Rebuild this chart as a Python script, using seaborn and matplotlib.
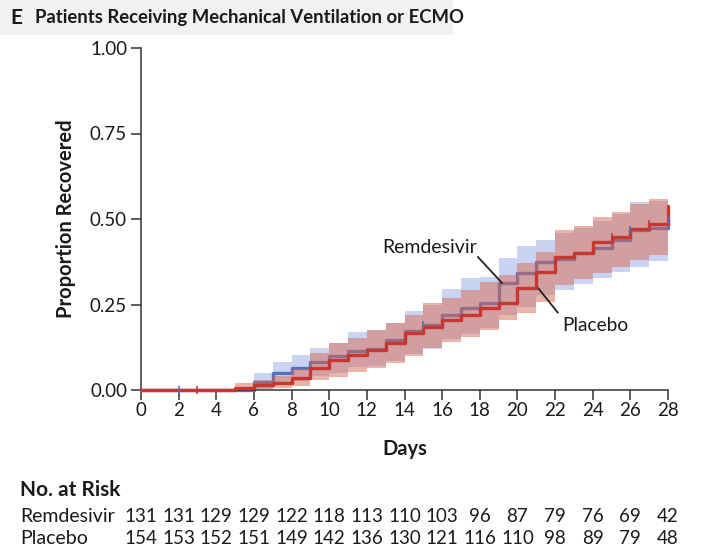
import numpy as np
import pandas as pd
import matplotlib
matplotlib.use("Agg")
import matplotlib.pyplot as plt
from matplotlib.patches import Rectangle
from matplotlib.transforms import blended_transform_factory
import seaborn as sns

# ---- data ----
days = list(range(0, 29))
remdesivir = [0, 0, 0, 0, 0, 0, 0.024, 0.05, 0.064, 0.083, 0.10, 0.114, 0.12, 0.146,
              0.173, 0.19, 0.22, 0.24, 0.255, 0.313, 0.342, 0.375, 0.383, 0.40, 0.415,
              0.438, 0.468, 0.473, 0.497]
remdesivir_upper = [0, 0, 0, 0, 0, 0, 0.05, 0.083, 0.102, 0.122, 0.137, 0.17, 0.175, 0.195,
                    0.232, 0.25, 0.295, 0.327, 0.33, 0.385, 0.42, 0.44, 0.46, 0.475, 0.495,
                    0.515, 0.55, 0.552, 0.552]
remdesivir_lower = [0, 0, 0, 0, 0, 0, 0.003, 0.015, 0.025, 0.04, 0.05, 0.067, 0.07, 0.085,
                    0.105, 0.12, 0.15, 0.165, 0.18, 0.22, 0.244, 0.278, 0.292, 0.31, 0.327,
                    0.346, 0.36, 0.378, 0.378]
placebo = [0, 0, 0, 0, 0, 0.007, 0.015, 0.02, 0.035, 0.064, 0.088, 0.102, 0.117, 0.138,
           0.166, 0.185, 0.205, 0.22, 0.24, 0.254, 0.297, 0.345, 0.39, 0.40, 0.434,
           0.448, 0.47, 0.484, 0.538]
placebo_upper = [0, 0, 0, 0, 0, 0.02, 0.03, 0.04, 0.06, 0.107, 0.137, 0.152, 0.175, 0.195,
                 0.219, 0.254, 0.27, 0.292, 0.317, 0.336, 0.37, 0.404, 0.468, 0.48, 0.505,
                 0.52, 0.545, 0.558, 0.558]
placebo_lower = [0, 0, 0, 0, 0, 0, 0.003, 0.005, 0.012, 0.03, 0.039, 0.054, 0.064, 0.078,
                 0.10, 0.122, 0.141, 0.156, 0.175, 0.205, 0.225, 0.258, 0.307, 0.325, 0.342,
                 0.36, 0.38, 0.395, 0.395]
# censor marks (day, series)
rem_censor_days = [2, 15, 26, 28]
pla_censor_days = [3, 25, 27]

risk_days = list(range(0, 29, 2))
risk_remdesivir = [131, 131, 129, 129, 122, 118, 113, 110, 103, 96, 87, 79, 76, 69, 42]
risk_placebo = [154, 153, 152, 151, 149, 142, 136, 130, 121, 116, 110, 98, 89, 79, 48]

x_ticks = list(range(0, 29, 2))
y_ticks = [0.0, 0.25, 0.5, 0.75, 1.0]
y_tick_labels = ["0.00", "0.25", "0.50", "0.75", "1.00"]

# ---- style ----
sns.set_style("ticks")
plt.rcParams["font.family"] = ["Lato", "DejaVu Sans"]
plt.rcParams["axes.edgecolor"] = "#333333"
plt.rcParams["xtick.color"] = "#333333"
plt.rcParams["ytick.color"] = "#333333"
TXT = "#1a1a1a"

BLUE = "#5570b9"
RED = "#c8372d"
BLUE_BAND = "#9fb0e6"
RED_BAND = "#d86a55"

fig = plt.figure(figsize=(7.04, 5.49), dpi=100)
ax = fig.add_axes([141 / 704, 1 - 390 / 549, (668 - 141) / 704, (390 - 48) / 549])

df = pd.DataFrame({"day": days, "rem": remdesivir, "pla": placebo})

# Remdesivir band and line
ax.fill_between(days, remdesivir_lower, remdesivir_upper, step="post",
                color=BLUE_BAND, alpha=0.55, lw=0, zorder=1)
sns.lineplot(data=df, x="day", y="rem", ax=ax, color=BLUE, lw=2.4,
             drawstyle="steps-post", zorder=2, clip_on=False)
# Placebo band and line
ax.fill_between(days, placebo_lower, placebo_upper, step="post",
                color=RED_BAND, alpha=0.5, lw=0, zorder=3)
sns.lineplot(data=df, x="day", y="pla", ax=ax, color=RED, lw=2.4,
             drawstyle="steps-post", zorder=4, clip_on=False)

# censor marks
rem_c_vals = [remdesivir[d] for d in rem_censor_days]
pla_c_vals = [placebo[d] for d in pla_censor_days]
ax.scatter(rem_censor_days, rem_c_vals, marker="|", s=40, color=BLUE, lw=1.2, zorder=5, clip_on=False)
ax.scatter(pla_censor_days, pla_c_vals, marker="|", s=40, color=RED, lw=1.2, zorder=5, clip_on=False)

ax.set_xlim(0, 28)
ax.set_ylim(0, 1)
ax.set_xticks(x_ticks)
ax.set_xticklabels([str(t) for t in x_ticks], fontsize=13.5, color=TXT)
ax.set_yticks(y_ticks)
ax.set_yticklabels(y_tick_labels, fontsize=13.5, color=TXT)
ax.tick_params(axis="both", direction="out", length=7, width=1.1)
ax.tick_params(axis="x", pad=2)
ax.tick_params(axis="y", pad=3)
for s in ["top", "right"]:
    ax.spines[s].set_visible(False)
for s in ["left", "bottom"]:
    ax.spines[s].set_linewidth(1.1)

ax.set_xlabel("Days", fontsize=14.5, fontweight="bold", labelpad=14, color=TXT)
ax.set_ylabel("Proportion Recovered", fontsize=14.5, fontweight="bold", labelpad=10, color=TXT)

# annotations
ax.annotate("", xy=(19.18, 0.313), xytext=(17.9, 0.389),
            arrowprops=dict(arrowstyle="-", color="#222222", lw=1.3, shrinkA=0, shrinkB=0))
ax.text(15.36, 0.418, "Remdesivir", ha="center", va="center", fontsize=14, color=TXT)
ax.annotate("", xy=(21.1, 0.298), xytext=(22.15, 0.226),
            arrowprops=dict(arrowstyle="-", color="#222222", lw=1.3, shrinkA=0, shrinkB=0))
ax.text(22.4, 0.19, "Placebo", ha="left", va="center", fontsize=13.8, color=TXT)

# title band
fig.patches.append(Rectangle((0, 1 - 35 / 549), 453 / 704, 35 / 549,
                             transform=fig.transFigure, facecolor="#f1f1f1",
                             edgecolor="none", zorder=0))
fig.text(10 / 704, 1 - 18 / 549, "E", fontsize=15, fontweight="bold", va="center", ha="left", color=TXT)
fig.text(35 / 704, 1 - 18 / 549, "Patients Receiving Mechanical Ventilation or ECMO",
         fontsize=13.3, fontweight="bold", va="center", ha="left", color=TXT)

# risk table
fig.text(20 / 704, 1 - 490 / 549, "No. at Risk", fontsize=15, fontweight="bold",
         va="center", ha="left", color=TXT)
fig.text(20 / 704, 1 - 516 / 549, "Remdesivir", fontsize=14, va="center", ha="left", color=TXT)
fig.text(20 / 704, 1 - 539 / 549, "Placebo", fontsize=14, va="center", ha="left", color=TXT)
trans = blended_transform_factory(ax.transData, fig.transFigure)
for d, r, p in zip(risk_days, risk_remdesivir, risk_placebo):
    ax.text(d, 1 - 516 / 549, str(r), transform=trans, ha="center", va="center",
            fontsize=13.5, clip_on=False, color=TXT)
    ax.text(d, 1 - 539 / 549, str(p), transform=trans, ha="center", va="center",
            fontsize=13.5, clip_on=False, color=TXT)

fig.savefig("out.png", dpi=100)
